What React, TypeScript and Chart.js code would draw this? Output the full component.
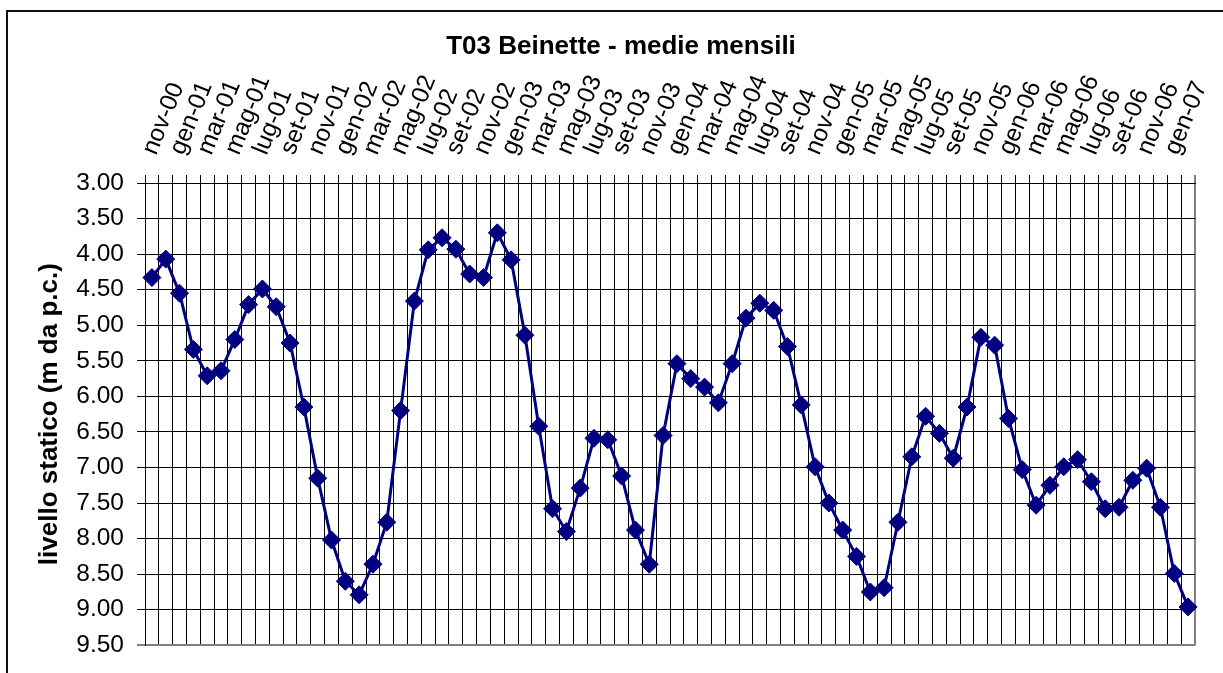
import React, { useEffect, useRef } from 'react';
import { Chart, registerables } from 'chart.js';

Chart.register(...registerables);

const FONT = "'Liberation Sans', Arial, sans-serif";

const chartTitle = 'T03 Beinette - medie mensili';
const yAxisTitle = 'livello statico (m da p.c.)';

const categories = [
  'nov-00', 'dic-00',
  'gen-01', 'feb-01', 'mar-01', 'apr-01', 'mag-01', 'giu-01', 'lug-01', 'ago-01', 'set-01', 'ott-01', 'nov-01', 'dic-01',
  'gen-02', 'feb-02', 'mar-02', 'apr-02', 'mag-02', 'giu-02', 'lug-02', 'ago-02', 'set-02', 'ott-02', 'nov-02', 'dic-02',
  'gen-03', 'feb-03', 'mar-03', 'apr-03', 'mag-03', 'giu-03', 'lug-03', 'ago-03', 'set-03', 'ott-03', 'nov-03', 'dic-03',
  'gen-04', 'feb-04', 'mar-04', 'apr-04', 'mag-04', 'giu-04', 'lug-04', 'ago-04', 'set-04', 'ott-04', 'nov-04', 'dic-04',
  'gen-05', 'feb-05', 'mar-05', 'apr-05', 'mag-05', 'giu-05', 'lug-05', 'ago-05', 'set-05', 'ott-05', 'nov-05', 'dic-05',
  'gen-06', 'feb-06', 'mar-06', 'apr-06', 'mag-06', 'giu-06', 'lug-06', 'ago-06', 'set-06', 'ott-06', 'nov-06', 'dic-06',
  'gen-07', 'feb-07',
];

const levels = [
  4.33, 4.07, 4.55, 5.34, 5.71, 5.64, 5.20, 4.71, 4.49, 4.74,
  5.25, 6.15, 7.15, 8.02, 8.60, 8.79, 8.36, 7.77, 6.20, 4.66,
  3.94, 3.77, 3.93, 4.28, 4.33, 3.70, 4.08, 5.14, 6.42, 7.58,
  7.90, 7.29, 6.59, 6.61, 7.12, 7.88, 8.36, 6.55, 5.54, 5.75,
  5.87, 6.09, 5.54, 4.90, 4.69, 4.79, 5.30, 6.12, 6.99, 7.50,
  7.88, 8.25, 8.75, 8.69, 7.77, 6.85, 6.28, 6.52, 6.87, 6.15,
  5.17, 5.28, 6.31, 7.03, 7.53, 7.25, 6.99, 6.89, 7.20, 7.58,
  7.56, 7.18, 7.01, 7.56, 8.49, 8.96,
];

const yMin = 3.0;
const yMax = 9.5;
const yStep = 0.5;

export default function App() {
  const canvasRef = useRef<HTMLCanvasElement | null>(null);

  useEffect(() => {
    const canvas = canvasRef.current;
    if (!canvas) return;
    Chart.defaults.font.family = FONT;
    const chart = new Chart(canvas, {
      type: 'line',
      data: {
        labels: categories,
        datasets: [
          {
            data: levels,
            borderColor: '#000080',
            backgroundColor: '#000080',
            borderWidth: 3,
            pointStyle: 'rectRot',
            pointRadius: 9,
            pointBackgroundColor: '#000080',
            pointBorderColor: '#000080',
            pointBorderWidth: 1,
            tension: 0,
            fill: false,
          },
        ],
      },
      options: {
        responsive: false,
        animation: false,
        events: [],
        layout: { padding: { left: 47, right: 28, top: 0, bottom: 21 } },
        plugins: {
          legend: { display: false },
          tooltip: { enabled: false },
          title: {
            display: true,
            text: chartTitle,
            color: '#000',
            font: { family: FONT, size: 26, weight: 'bold' },
            padding: { top: 31, bottom: 0 },
          },
        },
        scales: {
          x: {
            position: 'top',
            offset: true,
            grid: {
              offset: true,
              drawTicks: true,
              tickLength: 8,
              color: (c: any) => (c.tick ? '#000' : '#808080'),
              lineWidth: (c: any) => (c.tick ? 1 : 2),
            },
            border: { color: '#000', width: 1 },
            ticks: {
              autoSkip: false,
              minRotation: 68,
              maxRotation: 68,
              padding: 16,
              labelOffset: 25,
              color: '#000',
              font: { family: FONT, size: 24.5 },
              callback: (_v: any, i: number) => (i % 2 === 0 ? categories[i] : ''),
            },
            afterFit: (s: any) => {
              s.height = 120.8;
            },
          },
          y: {
            reverse: true,
            min: yMin,
            max: yMax,
            grid: {
              drawTicks: true,
              tickLength: 8,
              color: (c: any) => (c.tick && c.tick.value === yMax ? '#808080' : '#000'),
              lineWidth: (c: any) => (c.tick && c.tick.value === yMax ? 2 : 1),
            },
            border: { color: '#000', width: 1 },
            ticks: {
              stepSize: yStep,
              padding: 13,
              color: '#000',
              font: { family: FONT, size: 24.5 },
              callback: (v: any) => Number(v).toFixed(2),
            },
            title: {
              display: true,
              text: yAxisTitle,
              color: '#000',
              font: { family: FONT, size: 26, weight: 'bold' },
              padding: { top: -13, bottom: 0 },
            },
            afterFit: (s: any) => {
              s.width = 98;
            },
          },
        },
      },
    });
    return () => chart.destroy();
  }, []);

  return (
    <>
      <div
        style={{
          position: 'fixed',
          left: 6,
          top: 10,
          width: 1400,
          height: 1000,
          border: '2px solid #111',
          boxSizing: 'border-box',
          pointerEvents: 'none',
        }}
      />
      <canvas
        ref={canvasRef}
        width={1223}
        height={673}
        style={{ position: 'fixed', left: 0, top: 0, width: 1223, height: 673 }}
      />
    </>
  );
}
